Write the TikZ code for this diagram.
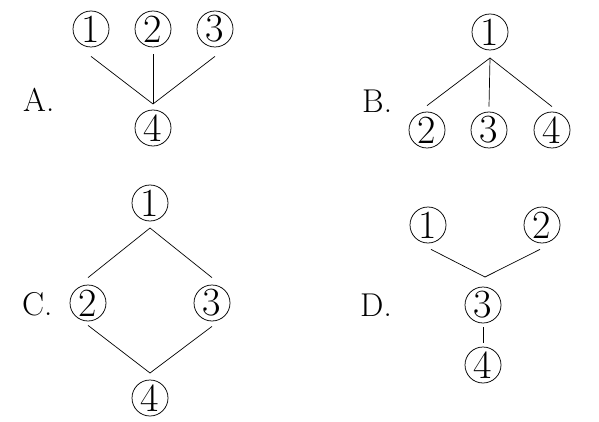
\documentclass[tikz,border=0pt]{standalone}
\begin{document}
\begin{tikzpicture}[x=1pt,y=-1pt,
  num/.style={circle,draw,line width=0.75pt,minimum size=36pt,inner sep=0pt,font=\fontsize{40}{40}\selectfont},
  lab/.style={font=\fontsize{33}{33}\selectfont,inner sep=0pt,anchor=base west},
  ln/.style={line width=0.7pt}]
\useasboundingbox (0,0) rectangle (599,422);
% A
\node[num] (a1) at (91,29) {1};
\node[num] (a2) at (153,29) {2};
\node[num] (a3) at (215,29) {3};
\node[num] (a4) at (153,128) {4};
\node[lab] (la) at (23,112) {A.};
\coordinate (aj) at (153,104);
\draw[ln] ([yshift=-9pt]a1.south) -- (aj);
\draw[ln] ([yshift=-7pt]a2.south) -- (aj);
\draw[ln] ([yshift=-9pt]a3.south) -- (aj);
% B
\node[num] (b1) at (490,32) {1};
\node[num] (b2) at (427,130) {2};
\node[num] (b3) at (489,130) {3};
\node[num] (b4) at (552,130) {4};
\node[lab] (lb) at (362,113) {B.};
\coordinate (bj) at (490,58);
\draw[ln] (bj) -- ([yshift=6pt]b2.north);
\draw[ln] (bj) -- ([yshift=5pt]b3.north);
\draw[ln] (bj) -- ([yshift=5pt]b4.north);
% C
\node[num] (c1) at (150,203) {1};
\node[num] (c2) at (88,303) {2};
\node[num] (c3) at (212,303) {3};
\node[num] (c4) at (150,398) {4};
\node[lab] (lc) at (22,315) {C.};
\coordinate (ct) at (150,228);
\coordinate (cb) at (150,373);
\draw[ln] (ct) -- ([yshift=7pt]c2.north);
\draw[ln] (ct) -- ([yshift=7pt]c3.north);
\draw[ln] ([yshift=-4pt]c2.south) -- (cb);
\draw[ln] ([yshift=-5pt]c3.south) -- (cb);
% D
\node[num] (d1) at (428,225) {1};
\node[num] (d2) at (542,225) {2};
\node[num] (d3) at (483,305) {3};
\node[num] (d4) at (483,365) {4};
\node[lab] (ld) at (360,316) {D.};
\coordinate (dj) at (485,277);
\draw[ln] ([xshift=3pt,yshift=-6pt]d1.south) -- (dj);
\draw[ln] ([xshift=-2pt,yshift=-6pt]d2.south) -- (dj);
\draw[ln] ([yshift=-4pt]d3.south) -- ([yshift=4pt]d4.north);
\end{tikzpicture}
\end{document}
